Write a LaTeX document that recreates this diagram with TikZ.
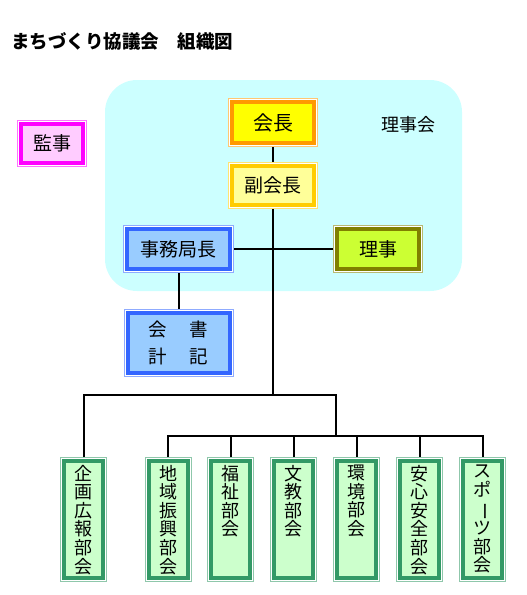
\documentclass[tikz,border=0pt]{standalone}
\usepackage{fontspec}
\setmainfont{Noto Sans CJK JP}
\usepackage{graphicx}
\usetikzlibrary{positioning}

\definecolor{bgcyan}{HTML}{CCFFFF}
\definecolor{kailine}{HTML}{FF9900}
\definecolor{kaifill}{HTML}{FFFF00}
\definecolor{fukuline}{HTML}{FFCC00}
\definecolor{fukufill}{HTML}{FFFF99}
\definecolor{jimuline}{HTML}{3366FF}
\definecolor{jimufill}{HTML}{99CCFF}
\definecolor{rijiline}{HTML}{808000}
\definecolor{rijifill}{HTML}{CCFF33}
\definecolor{kanline}{HTML}{FF00FF}
\definecolor{kanfill}{HTML}{FFCCFF}
\definecolor{bukaline}{HTML}{339966}
\definecolor{bukafill}{HTML}{CCFFCC}

% vertical text in the committee boxes
\newcommand{\tate}[1]{\parbox[c][109pt][t]{30pt}{\centering #1}}

\begin{document}
\begin{tikzpicture}[
	x=1pt, y=-1pt,
	node distance=15pt,
	conn/.style={line width=2pt},
	orgbox/.style 2 args={rectangle, inner sep=0pt, outer sep=4pt, line width=4pt,
		draw=#1, fill=#2,
		preaction={draw=#1!55, line width=8pt},
		preaction={draw=white, line width=6pt}},
	bigtext/.style={font=\fontsize{19}{19}\selectfont},
	bukai/.style={orgbox={bukaline}{bukafill}, minimum width=39pt, minimum height=117pt,
		font=\fontsize{18}{18.6}\selectfont}
	]
	
	\useasboundingbox (0,0) rectangle (527,595);
	\fill[bgcyan, rounded corners=32pt] (105,80) rectangle (462,291);
	
	\node[anchor=west, inner sep=0pt, font=\fontsize{18.5}{20}\selectfont\bfseries] (title) at (11,41.5) {まちづくり協議会　組織図};
	\node[inner sep=0pt, font=\fontsize{18}{18}\selectfont] (rijikai) at (408,125) {理事会};
	
	\node[orgbox={kailine}{kaifill}, minimum width=82pt, minimum height=41pt, font=\fontsize{20}{20}\selectfont] (kaicho) at (273,122.5) {会長};
	\node[orgbox={fukuline}{fukufill}, minimum width=82pt, minimum height=39pt, bigtext, below=of kaicho] (fuku) {副会長};
	\node[orgbox={jimuline}{jimufill}, minimum width=103pt, minimum height=40pt, bigtext] (jimu) at (178.5,249) {事務局長};
	\node[orgbox={rijiline}{rijifill}, minimum width=82pt, minimum height=40pt, bigtext] (riji) at (378,249) {理事};
	\node[orgbox={jimuline}{jimufill}, minimum width=102pt, minimum height=60pt, align=center,
		font=\fontsize{18.5}{26.7}\selectfont] (kaikei) at (178.5,343) {会　\hspace{4pt}書\\計　\hspace{4pt}記};
	\node[orgbox={kanline}{kanfill}, minimum width=62pt, minimum height=39pt, bigtext] (kanji) at (52,143.5) {監事};
	
	\node[bukai] (kikaku) at (83.5,519.5) {\tate{企\\画\\広\\報\\部\\会}};
	\node[bukai] (chiiki) at (168,519.5) {\tate{地\\域\\振\\興\\部\\会}};
	\node[bukai, right=15.9pt of chiiki] (fukushi) {\tate{福\\祉\\部\\会}};
	\node[bukai, right=15.9pt of fukushi] (bunkyo) {\tate{文\\教\\部\\会}};
	\node[bukai, right=15.9pt of bunkyo] (kankyo) {\tate{環\\境\\部\\会}};
	\node[bukai, right=15.9pt of kankyo] (anshin) {\tate{安\\心\\安\\全\\部\\会}};
	\node[bukai, right=15.9pt of anshin] (sports) {\tate{ス\\ポ\\\rotatebox[origin=c]{-90}{ー}\\ツ\\部\\会}};
	
	\coordinate (bus1) at (273,395);
	\coordinate (bus2) at (336,395);
	\coordinate (bus3) at (336,436);
	
	\draw[conn] (kaicho) -- (fuku);
	\draw[conn] (fuku) -- (bus1);
	\draw[conn] (jimu) -- (riji);
	\draw[conn] (jimu) -- (kaikei);
	\draw[conn] (kikaku.north) |- (bus2) -- (bus3);
	\draw[conn] (chiiki.north) |- (bus3) -| (sports.north);
	\foreach \n in {fukushi,bunkyo,kankyo,anshin}
		\draw[conn] (\n.north) -- (\n.north |- bus3);
	
\end{tikzpicture}
\end{document}
